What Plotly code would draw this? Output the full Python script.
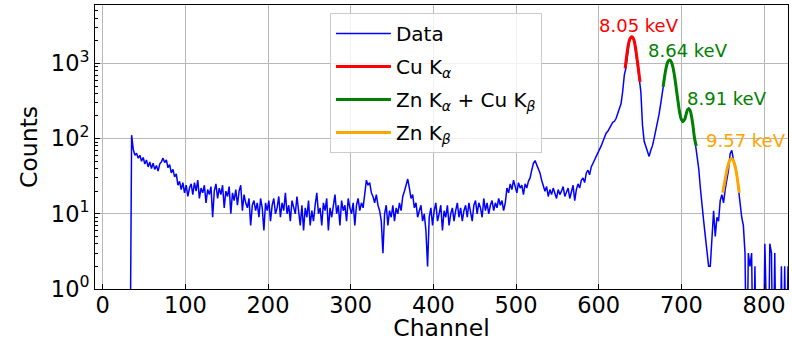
import numpy as np
import plotly.graph_objects as go

# ---------------- data ----------------
channels = list(range(33, 830, 2))
counts = [
    0, 111, 72, 60, 64, 55, 60, 50, 56, 46, 52, 42, 49, 40, 47, 39, 44, 37, 46, 49,
    55, 48, 52, 41, 45, 35, 39, 31, 34, 24, 27, 21, 26, 19, 24, 17, 22, 25, 18, 26,
    20, 28, 16, 22, 19, 24, 14, 21, 18, 23, 9, 20, 25, 16, 22, 18, 24, 12, 20, 17,
    23, 10, 19, 15, 21, 13, 20, 24, 11, 18, 14, 12, 16, 7, 13, 15, 11, 14, 9, 16,
    12, 6, 14, 11, 15, 8, 13, 16, 10, 12, 17, 9, 14, 11, 19, 10, 13, 8, 15, 12,
    10, 17, 11, 7, 13, 6, 12, 9, 15, 7, 11, 8, 13, 19, 10, 12, 7, 14, 11, 16,
    6, 12, 9, 14, 18, 10, 13, 7, 15, 11, 13, 8, 16, 12, 10, 14, 7, 13, 16, 11,
    14, 12, 20, 28, 24, 26, 19, 17, 14, 18, 13, 11, 8, 3, 10, 13, 7, 11, 9, 13,
    8, 12, 10, 14, 11, 17, 20, 24, 29, 22, 16, 18, 12, 14, 9, 11, 13, 8, 10, 6,
    2, 9, 12, 7, 11, 14, 8, 10, 13, 6, 11, 9, 13, 7, 10, 12, 8, 11, 14, 9,
    12, 8, 11, 13, 9, 14, 11, 8, 13, 15, 10, 14, 12, 9, 16, 11, 14, 10, 13, 15,
    11, 14, 12, 16, 13, 15, 11, 14, 22, 19, 25, 21, 28, 23, 19, 26, 22, 24, 18, 25,
    22, 27, 30, 38, 47, 51, 44, 40, 35, 28, 24, 20, 23, 17, 21, 18, 22, 19, 16, 21,
    18, 20, 23, 17, 19, 22, 16, 20, 24, 15, 21, 25, 22, 28, 30, 26, 35, 38, 33, 42,
    48, 52, 58, 66, 72, 80, 92, 105, 118, 125, 140, 150, 165, 170, 185, 215, 240, 290, 420, 700,
    880, 1400, 1950, 2250, 2250, 1950, 1400, 950, 640, 420, 150, 92, 78, 66, 58, 70, 80, 100, 125, 160,
    210, 290, 420, 580, 800, 1000, 1100, 1100, 960, 740, 530, 380, 260, 190, 168, 172, 200, 240, 255, 230,
    180, 120, 86, 58, 40, 22, 12, 8, 5, 3, 2, 2, 5, 11, 5, 9, 8, 15, 18, 14,
    21, 28, 38, 63, 70, 52, 45, 34, 22, 12, 9, 7, 3, 0, 3, 2, 3, 0, 2, 0,
    0, 0, 0, 0, 4, 0, 0, 4, 3, 0, 3, 0, 0, 0, 2, 0, 2, 0, 2,
]

cu_ka_ch = list(range(632, 651, 2))
cu_ka_fit = [860, 1300, 1800, 2150, 2264, 2150, 1750, 1250, 850, 569]

zn_ka_ch = list(range(678, 719, 2))
zn_ka_fit = [490, 700, 920, 1070, 1107, 1040, 870, 650, 450, 310, 220, 180, 168, 180,
             215, 245, 245, 205, 150, 100, 80]

zn_kb_ch = list(range(750, 771, 2))
zn_kb_fit = [19, 25, 33, 42, 50, 54, 53, 47, 38, 28, 19]

peak_labels = ["8.05 keV", "8.64 keV", "8.91 keV", "9.57 keV"]
peak_label_ch = [648.5, 707.7, 755.5, 778.0]
peak_label_logy = [3.51, 3.177, 2.531, 1.977]
peak_label_colors = ["red", "green", "green", "orange"]

y_ticks = [1, 10, 100, 1000]
y_tick_text = ["10<sup>0</sup>", "10<sup>1</sup>", "10<sup>2</sup>", "10<sup>3</sup>"]
y_minor_ticks = [m * d for d in (1, 10, 100, 1000) for m in range(2, 10)]
x_ticks = [0, 100, 200, 300, 400, 500, 600, 700, 800]

# ---------------- figure ----------------
cnt = np.array(counts, dtype=float)
cnt_plot = np.where(cnt > 0, cnt, 0.05)  # emulate log-axis clipping of zero counts

FONT = "DejaVu Sans"
fig = go.Figure()
fig.add_trace(go.Scatter(x=channels, y=cnt_plot, mode="lines", name="Data", legendgroup="a",
                         line=dict(color="blue", width=1.5)))
fig.add_trace(go.Scatter(x=cu_ka_ch, y=cu_ka_fit, mode="lines", name="Cu K<sub><i>α</i></sub>",
                         legendgroup="b", line=dict(color="red", width=3, shape="spline")))
fig.add_trace(go.Scatter(x=zn_ka_ch, y=zn_ka_fit, mode="lines", legendgroup="c",
                         name="Zn K<sub><i>α</i></sub> + Cu K<sub><i>β</i></sub>",
                         line=dict(color="green", width=3, shape="spline")))
fig.add_trace(go.Scatter(x=zn_kb_ch, y=zn_kb_fit, mode="lines", name="Zn K<sub><i>β</i></sub>",
                         legendgroup="d", line=dict(color="orange", width=3, shape="spline")))

for t, cx, ly, c in zip(peak_labels, peak_label_ch, peak_label_logy, peak_label_colors):
    fig.add_annotation(x=cx, y=ly, xref="x", yref="y", text=t, showarrow=False,
                       font=dict(family=FONT, size=18, color=c),
                       xanchor="center", yanchor="middle")

axis_common = dict(showline=True, linecolor="black", linewidth=1, mirror=True,
                   ticks="inside", tickcolor="black", ticklen=5,
                   showgrid=True, gridcolor="#b8b8b8", gridwidth=1, zeroline=False,
                   tickfont=dict(family=FONT, size=22.5, color="black"))

fig.update_xaxes(range=[-9.3, 829], tickvals=x_ticks, ticklabelstandoff=-4,
                 title=dict(text="Channel", font=dict(family=FONT, size=23.5, color="black"),
                            standoff=1),
                 **axis_common)
fig.update_yaxes(type="log", range=[0, 3.777], tickvals=y_ticks, ticktext=y_tick_text,
                 title=dict(text="Counts", font=dict(family=FONT, size=23.5, color="black"),
                            standoff=6),
                 minor=dict(ticks="inside", ticklen=3, tickcolor="black", showgrid=False,
                            tickvals=y_minor_ticks),
                 **axis_common)

fig.update_layout(
    width=792, height=342,
    margin=dict(l=95, r=4, t=5, b=53, autoexpand=False),
    plot_bgcolor="white", paper_bgcolor="white",
    font=dict(family=FONT, color="black"),
    legend=dict(x=0.339, y=0.972, xanchor="left", yanchor="top",
                bgcolor="rgba(255,255,255,0.8)", bordercolor="#cccccc", borderwidth=1,
                tracegroupgap=4, itemwidth=55,
                font=dict(family=FONT, size=20, color="black")),
    showlegend=True,
)

fig.write_html("out.html", config={"displayModeBar": False},
               post_script="document.body.style.margin='0';document.body.style.padding='0';")
